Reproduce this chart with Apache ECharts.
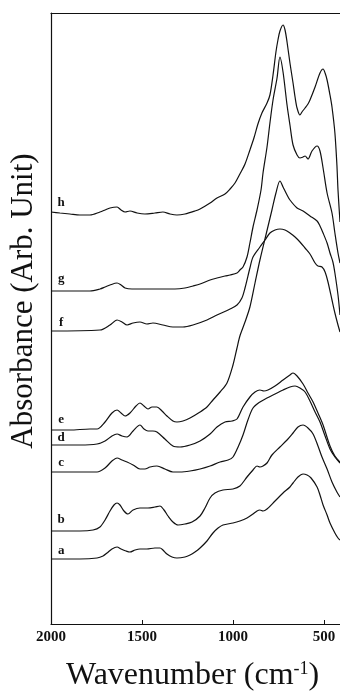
<!DOCTYPE html>
<html><head><meta charset="utf-8">
<script src="https://cdn.jsdelivr.net/npm/echarts@6/dist/echarts.min.js"></script>
<style>html,body{margin:0;padding:0;background:#fff}#c{width:340px;height:694px}</style>
</head><body><div id="c"></div>
<script>
// Wavenumber (cm-1) vs absorbance (arbitrary units, curves offset vertically)
const xTicks = [2000, 1500, 1000, 500];
const curveNames = ['a', 'b', 'c', 'd', 'e', 'f', 'g', 'h'];

const curve_a = [[2000,6.5],[1841,6.5],[1747,6.6],[1714,6.8],[1692,7.1],[1665,7.5],[1637,7.7],[1615,7.5],[1588,7.3],[1566,7.2],[1538,7.4],[1511,7.5],[1473,7.5],[1429,7.6],[1401,7.6],[1385,7.4],[1363,7.0],[1335,6.7],[1308,6.6],[1264,6.7],[1236,6.9],[1209,7.2],[1181,7.6],[1143,8.3],[1110,9.1],[1082,9.6],[1055,9.9],[1000,10.1],[962,10.3],[923,10.6],[890,11.0],[868,11.3],[852,11.4],[835,11.3],[813,11.5],[769,12.3],[725,13.1],[687,13.7],[670,14.1],[643,14.7],[615,15.0],[593,14.9],[571,14.6],[538,13.7],[522,12.9],[505,11.9],[483,10.9],[467,10.1],[440,9.1],[423,8.6],[412,8.4]];
const curve_b = [[2000,9.3],[1841,9.3],[1769,9.4],[1731,9.7],[1703,10.4],[1676,11.3],[1654,11.9],[1637,12.1],[1621,11.9],[1599,11.3],[1577,11.0],[1549,11.4],[1511,11.6],[1467,11.6],[1429,11.7],[1401,11.8],[1379,11.4],[1357,10.8],[1330,10.2],[1302,9.9],[1264,10.0],[1225,10.2],[1181,10.8],[1154,11.6],[1126,12.6],[1099,13.1],[1055,13.4],[1000,13.5],[962,13.8],[923,14.7],[890,15.4],[868,15.8],[852,15.7],[835,15.8],[813,16.1],[786,16.9],[742,17.7],[703,18.4],[670,19.1],[643,19.7],[615,19.9],[588,19.6],[560,19.0],[533,17.8],[511,16.7],[483,15.5],[456,14.2],[429,13.2],[412,12.7]];
const curve_c = [[2000,15.2],[1841,15.2],[1747,15.2],[1703,15.6],[1665,16.3],[1637,16.6],[1610,16.4],[1582,16.2],[1549,15.9],[1511,15.5],[1484,15.5],[1456,15.7],[1418,15.8],[1374,15.5],[1330,15.2],[1291,15.2],[1236,15.3],[1181,15.5],[1126,15.8],[1071,16.2],[1027,16.4],[1000,16.7],[972,17.7],[945,18.9],[918,20.4],[890,21.6],[852,22.2],[813,22.6],[769,23.0],[725,23.4],[687,23.7],[659,23.8],[632,23.6],[604,23.2],[577,22.3],[549,21.2],[522,20.2],[494,18.8],[467,17.5],[440,16.7],[412,16.1]];
const curve_d = [[2000,17.9],[1841,17.9],[1747,18.0],[1703,18.3],[1665,18.8],[1637,19.0],[1610,18.8],[1582,18.7],[1549,19.3],[1511,19.9],[1489,19.5],[1467,19.3],[1440,19.3],[1418,19.2],[1374,18.5],[1330,17.8],[1291,17.7],[1236,17.9],[1181,18.3],[1126,19.0],[1088,19.7],[1044,20.2],[1005,20.3],[978,20.5],[945,21.7],[907,22.7],[879,23.2],[852,23.4],[830,23.3],[808,23.4],[769,23.8],[725,24.4],[687,24.9],[670,25.1],[648,24.8],[615,24.0],[588,23.1],[560,22.2],[533,21.1],[505,19.9],[467,17.8],[440,16.8],[412,16.2]];
const curve_e = [[2000,19.4],[1896,19.4],[1786,19.5],[1747,19.5],[1703,20.2],[1665,21.1],[1637,21.4],[1615,21.1],[1593,20.8],[1566,21.1],[1533,21.8],[1511,22.1],[1489,21.8],[1467,21.5],[1445,21.7],[1418,21.7],[1390,21.3],[1363,20.8],[1330,20.3],[1308,20.2],[1275,20.3],[1236,20.6],[1181,21.2],[1143,21.7],[1110,22.4],[1071,23.2],[1033,24.1],[1000,25.9],[978,27.6],[962,28.8],[934,30.2],[907,31.7],[879,34.1],[852,36.4],[819,38.9],[786,41.4],[764,43.1],[742,44.3],[725,43.7],[703,42.9],[687,42.4],[648,41.6],[615,41.3],[577,40.8],[538,40.3],[522,39.8],[505,39.1],[483,38.1],[467,37.1],[451,36.2],[440,35.1],[423,32.9],[412,30.9]];
const curve_f = [[2000,29.3],[1731,29.4],[1676,29.9],[1637,30.4],[1610,30.2],[1582,29.9],[1549,30.1],[1511,30.2],[1473,30.0],[1440,30.1],[1385,29.9],[1330,29.7],[1275,29.7],[1220,29.9],[1143,30.4],[1088,30.9],[1016,31.5],[978,31.9],[951,32.6],[934,33.6],[907,35.6],[890,36.7],[852,37.7],[824,38.4],[797,39.1],[769,39.4],[742,39.5],[714,39.4],[687,39.1],[659,38.7],[632,38.2],[604,37.6],[577,37.0],[549,36.1],[533,35.8],[511,35.7],[494,35.2],[478,34.2],[456,32.4],[440,31.1],[423,29.9],[412,29.2]];
const curve_g = [[2000,33.3],[1896,33.3],[1786,33.3],[1731,33.5],[1703,33.7],[1676,33.9],[1637,34.1],[1615,33.9],[1593,33.6],[1555,33.5],[1511,33.5],[1401,33.5],[1319,33.5],[1264,33.6],[1220,33.8],[1181,34.0],[1126,34.4],[1088,34.6],[1044,34.8],[1016,34.9],[978,35.1],[962,35.4],[945,35.7],[923,36.7],[907,38.1],[890,39.7],[868,41.4],[846,43.4],[835,45.1],[813,47.7],[797,50.1],[780,52.4],[758,54.6],[742,56.7],[725,55.2],[703,51.9],[687,49.9],[670,47.9],[648,46.9],[632,46.6],[615,46.7],[604,46.8],[588,46.5],[566,47.3],[538,47.8],[522,47.3],[505,45.6],[483,43.1],[456,41.1],[440,39.1],[423,37.1],[412,36.1]];
const curve_h = [[2000,41.2],[1951,41.1],[1896,41.0],[1841,40.9],[1786,40.9],[1731,41.2],[1703,41.4],[1676,41.6],[1637,41.7],[1615,41.4],[1593,41.2],[1566,41.3],[1527,41.1],[1484,41.0],[1429,41.1],[1385,41.2],[1346,41.0],[1308,40.9],[1264,41.0],[1209,41.3],[1181,41.5],[1126,42.1],[1088,42.6],[1044,43.0],[1016,43.5],[989,44.1],[962,45.0],[934,46.0],[907,47.4],[885,48.6],[863,50.0],[841,51.1],[813,52.1],[797,52.9],[780,54.9],[764,57.2],[753,58.4],[742,59.3],[725,59.9],[714,59.4],[703,58.2],[687,56.1],[670,54.1],[659,52.7],[648,51.6],[632,50.9],[621,51.2],[604,51.6],[588,52.0],[577,52.4],[549,53.7],[522,55.1],[505,55.5],[494,55.1],[483,54.4],[467,52.9],[456,51.7],[440,49.1],[429,45.9],[423,43.4],[412,40.2]];

const curves = [curve_a, curve_b, curve_c, curve_d, curve_e, curve_f, curve_g, curve_h];
const labelLift = [8, 11, 9, 7, 10, 8, 12, 9];

const chart = echarts.init(document.getElementById('c'), null, {renderer: 'canvas'});
const serif = '"Liberation Serif", "DejaVu Serif", serif';

const series = curves.map((data, i) => ({
  type: 'line',
  name: curveNames[i],
  data: data,
  showSymbol: false,
  smooth: 0.3,
  silent: true,
  lineStyle: {color: '#111', width: 1.2},
  markPoint: {
    symbol: 'circle', symbolSize: 0, silent: true,
    data: [{coord: [1944, data[0][1]], value: curveNames[i]}],
    label: {show: true, formatter: curveNames[i], color: '#111', fontFamily: serif,
      fontSize: 13, fontWeight: 'bold', offset: [0, -labelLift[i]]}
  }
}));

const lineCol = {color: '#111', width: 1.2};

chart.setOption({
  animation: false,
  backgroundColor: '#fff',
  grid: {left: 51, top: 13, right: 0, bottom: 70, show: false},
  xAxis: [{
    type: 'value', min: 412, max: 2000, inverse: true, position: 'bottom',
    axisLine: {show: true, lineStyle: lineCol},
    axisTick: {show: true, inside: true, length: 4, lineStyle: {color: '#111'}, customValues: xTicks},
    splitLine: {show: false},
    axisLabel: {show: true, color: '#111', fontFamily: serif, fontSize: 15, fontWeight: 'bold', margin: 6,
      customValues: xTicks, formatter: v => String(v)}
  }, {
    type: 'value', min: 412, max: 2000, inverse: true, position: 'top',
    axisLine: {show: true, lineStyle: lineCol},
    axisTick: {show: false}, axisLabel: {show: false}, splitLine: {show: false}
  }],
  yAxis: {
    type: 'value', min: 0, max: 61.1,
    axisLine: {show: true, lineStyle: lineCol},
    axisTick: {show: false}, axisLabel: {show: false}, splitLine: {show: false}
  },
  graphic: [
    {type: 'text', left: 66, top: 660, style: {
      text: 'Wavenumber (cm{sup|-1})', fill: '#111', font: '32px ' + serif,
      rich: {sup: {fontSize: 18, verticalAlign: 'top', padding: [0,0,13,0], fontFamily: serif}}}},
    {type: 'text', x: 8, y: 301, rotation: Math.PI/2, style: {
      text: 'Absorbance (Arb. Unit)', fill: '#111', font: '31px ' + serif,
      align: 'center', verticalAlign: 'top'}}
  ],
  series: series
});
</script></body></html>
